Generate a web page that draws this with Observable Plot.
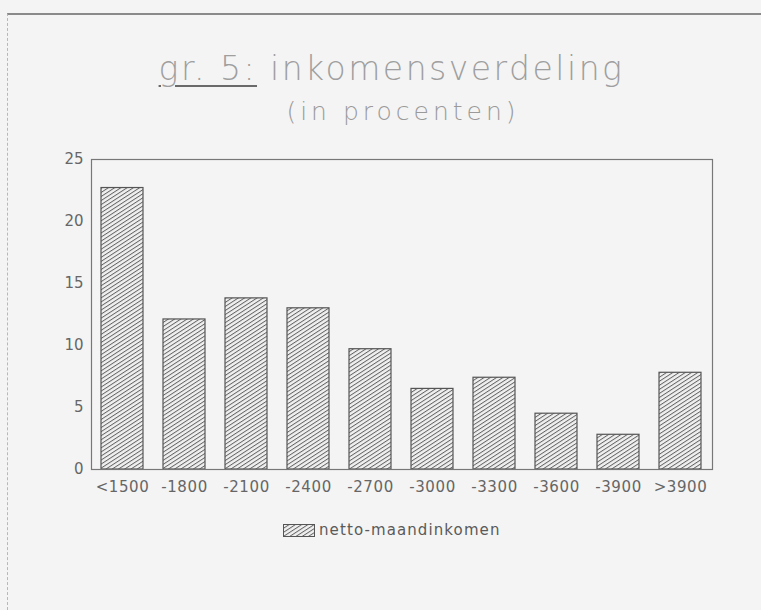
<!DOCTYPE html>
<html>
<head>
<meta charset="utf-8">
<script src="https://cdn.jsdelivr.net/npm/d3@7"></script>
<script src="https://cdn.jsdelivr.net/npm/@observablehq/plot@0.6"></script>
<style>
  html, body { margin: 0; padding: 0; background: #f4f4f4; }
  #wrap { position: relative; width: 761px; height: 610px; background: #f4f4f4; overflow: hidden;
          font-family: "DejaVu Sans", sans-serif; }
  #border { position: absolute; left: 7px; top: 13px; width: 760px; height: 600px;
            border-top: 2px solid #8a8a8a; border-left: 1px dashed #b8b8b8; }
  #title { position: absolute; left: 0; width: 783px; top: 52px; text-align: center;
           font-family: "DejaVu Sans ExtraLight", "DejaVu Sans", sans-serif; font-weight: 200;
           font-size: 33px; line-height: 33px; color: #9f9f9f; letter-spacing: 2.5px; }
  #title u { text-decoration-thickness: 2px; text-underline-offset: 5px; text-decoration-color: #6a6a6a; }
  #subtitle { position: absolute; left: 0; width: 806px; top: 99px; text-align: center;
              font-family: "DejaVu Sans ExtraLight", "DejaVu Sans", sans-serif; font-weight: 200;
              font-size: 25px; line-height: 25px; color: #9a9a9a; letter-spacing: 4px; }
  #chart { position: absolute; left: 0; top: 140px; }
  #legend { position: absolute; left: 283px; top: 521px; display: flex; align-items: center;
            font-size: 15px; color: #5a5a5a; letter-spacing: 1.1px; }
  #legend svg { margin-right: 4px; }
</style>
</head>
<body>
<div id="wrap">
  <div id="border"></div>
  <div id="title"><u>gr. 5:</u> inkomensverdeling</div>
  <div id="subtitle">(in procenten)</div>
  <div id="chart"></div>
  <div id="legend"></div>
</div>
<script>
const categories = ["<1500", "-1800", "-2100", "-2400", "-2700", "-3000", "-3300", "-3600", "-3900", ">3900"];
const values = [22.7, 12.1, 13.8, 13.0, 9.7, 6.5, 7.4, 4.5, 2.8, 7.8];
const yTicks = [0, 5, 10, 15, 20, 25];
const seriesName = "netto-maandinkomen";

const data = categories.map((c, i) => ({category: c, value: values[i]}));

const patternDef = `
  <pattern id="hatch" patternUnits="userSpaceOnUse" width="10" height="3.4" patternTransform="rotate(-33)">
    <rect width="10" height="3.4" fill="#f0f0f0"></rect>
    <line x1="0" y1="0.5" x2="10" y2="0.5" stroke="#5a5a5a" stroke-width="0.9"></line>
  </pattern>`;

const plot = Plot.plot({
  width: 761,
  height: 380,
  marginTop: 19,
  marginBottom: 51,
  marginLeft: 91,
  marginRight: 49,
  style: {background: "transparent", fontFamily: "DejaVu Sans, sans-serif", fontSize: "15px", color: "#666"},
  x: {domain: categories, paddingInner: 0.32, paddingOuter: 0.16, label: null, tickSize: 0, tickPadding: 12},
  y: {domain: [0, 25], ticks: yTicks, label: null, tickSize: 0, tickPadding: 8},
  marks: [
    Plot.barY(data, {x: "category", y: "value", fill: "url(#hatch)", stroke: "#555", strokeWidth: 1.2}),
    Plot.frame({stroke: "#777", strokeWidth: 1.2})
  ]
});
d3.select(plot).insert("defs", ":first-child").html(patternDef);
d3.select(plot).selectAll("[aria-label='x-axis tick label'] text").style("letter-spacing", "0.6px");
document.getElementById("chart").appendChild(plot);

const legend = document.getElementById("legend");
legend.innerHTML = `<svg width="32" height="13"><rect x="0.5" y="0.5" width="31" height="12" fill="url(#hatch)" stroke="#555"></rect></svg><span>${seriesName}</span>`;
</script>
</body>
</html>
